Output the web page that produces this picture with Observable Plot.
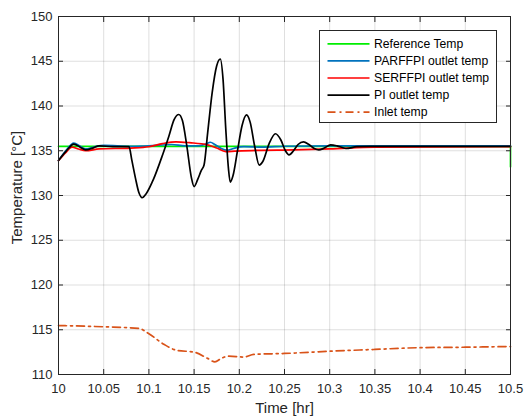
<!DOCTYPE html>
<html>
<head>
<meta charset="utf-8">
<script src="https://cdn.jsdelivr.net/npm/d3@7"></script>
<script src="https://cdn.jsdelivr.net/npm/@observablehq/plot@0.6"></script>
<style>
  body { margin: 0; background: white; }
  #wrap { position: relative; width: 524px; height: 419px; font-family: "Liberation Sans", Arial, sans-serif; }
  #legend { position: absolute; left: 319px; top: 30px; width: 176px; height: 91px; border: 1px solid #262626; background: white; }
</style>
</head>
<body>
<div id="wrap">
  <div id="chart"></div>
  <div id="legend"></div>
</div>
<script>
const xTicks = [10, 10.05, 10.1, 10.15, 10.2, 10.25, 10.3, 10.35, 10.4, 10.45, 10.5];
const yTicks = [110, 115, 120, 125, 130, 135, 140, 145, 150];

const seriesNames = ["Reference Temp", "PARFFPI outlet temp", "SERFFPI outlet temp", "PI outlet temp", "Inlet temp"];
const seriesColors = ["#00ee00", "#0072bd", "#ff0000", "#000000", "#d95319"];

const refTime = [10, 10.5, 10.5];
const refTemp = [135.5, 135.5, 133.2];

const parTime = [10.000, 10.008, 10.017, 10.024, 10.030, 10.040, 10.050, 10.080, 10.100, 10.125, 10.140, 10.155, 10.163, 10.168, 10.173, 10.180, 10.187, 10.195, 10.205, 10.225, 10.250, 10.300, 10.500];
const parTemp = [133.9, 135.0, 135.85, 135.5, 135.2, 135.45, 135.6, 135.5, 135.55, 135.7, 135.55, 135.55, 135.75, 135.95, 135.7, 135.25, 135.05, 135.3, 135.45, 135.4, 135.5, 135.55, 135.55];

const serTime = [10.000, 10.008, 10.015, 10.022, 10.030, 10.045, 10.080, 10.100, 10.115, 10.130, 10.145, 10.165, 10.175, 10.185, 10.195, 10.220, 10.260, 10.300, 10.350, 10.500];
const serTemp = [133.9, 134.8, 135.4, 135.2, 135.0, 135.2, 135.3, 135.45, 135.8, 136.0, 135.9, 135.65, 135.3, 134.9, 134.95, 135.05, 135.1, 135.2, 135.4, 135.45];

const piTime = [10.000, 10.008, 10.017, 10.024, 10.030, 10.038, 10.045, 10.060, 10.078, 10.081, 10.085, 10.089, 10.0925, 10.097, 10.105, 10.115, 10.122, 10.128, 10.133, 10.137, 10.142, 10.147, 10.150, 10.154, 10.158, 10.161, 10.165, 10.170, 10.175, 10.179, 10.182, 10.185, 10.188, 10.190, 10.193, 10.198, 10.203, 10.208, 10.212, 10.217, 10.222, 10.226, 10.233, 10.240, 10.246, 10.251, 10.255, 10.260, 10.265, 10.271, 10.277, 10.283, 10.288, 10.294, 10.301, 10.308, 10.318, 10.330, 10.345, 10.500];
const piTemp = [133.9, 134.9, 135.75, 135.4, 135.1, 135.3, 135.55, 135.45, 135.45, 134.0, 132.0, 130.3, 129.75, 130.2, 131.8, 134.5, 136.6, 138.5, 139.05, 138.4, 135.5, 132.0, 131.0, 131.8, 132.8, 133.4, 137.0, 141.5, 144.5, 145.25, 143.0, 137.5, 133.0, 131.5, 132.2, 135.0, 137.8, 139.0, 138.2, 135.5, 133.4, 133.8, 135.8, 136.9, 136.2, 135.0, 134.55, 135.0, 135.7, 136.0, 135.7, 135.25, 135.1, 135.3, 135.65, 135.55, 135.25, 135.45, 135.5, 135.5];

const inletTime = [10.000, 10.050, 10.089, 10.100, 10.117, 10.131, 10.150, 10.165, 10.173, 10.180, 10.188, 10.205, 10.216, 10.250, 10.300, 10.350, 10.400, 10.450, 10.500];
const inletTemp = [115.47, 115.33, 115.15, 114.55, 113.35, 112.7, 112.5, 111.8, 111.4, 111.8, 112.05, 111.95, 112.25, 112.35, 112.6, 112.8, 113.0, 113.05, 113.13];

const toRows = (ts, vs) => ts.map((t, i) => ({t, v: vs[i]}));
const ref = toRows(refTime, refTemp);
const par = toRows(parTime, parTemp);
const ser = toRows(serTime, serTemp);
const pi = toRows(piTime, piTemp);
const inlet = toRows(inletTime, inletTemp);

const font = "'Liberation Sans', Arial, Helvetica, sans-serif";
const axisColor = "#262626";
const lw = 1.7;
const inletDash = "8,4,2,4";

const chart = Plot.plot({
  width: 524,
  height: 419,
  marginLeft: 58,
  marginRight: 14,
  marginTop: 16,
  marginBottom: 45,
  style: {fontFamily: font, fontSize: "13px", color: axisColor, background: "white", overflow: "visible"},
  x: {domain: [10, 10.5]},
  y: {domain: [110, 150]},
  marks: [
    Plot.gridX(xTicks, {stroke: axisColor, strokeOpacity: 0.15}),
    Plot.gridY(yTicks, {stroke: axisColor, strokeOpacity: 0.15}),
    Plot.line(ref, {x: "t", y: "v", stroke: seriesColors[0], strokeWidth: lw}),
    Plot.line(par, {x: "t", y: "v", stroke: seriesColors[1], strokeWidth: lw, curve: "monotone-x"}),
    Plot.line(ser, {x: "t", y: "v", stroke: seriesColors[2], strokeWidth: lw, curve: "monotone-x"}),
    Plot.line(pi, {x: "t", y: "v", stroke: seriesColors[3], strokeWidth: lw, curve: "monotone-x"}),
    Plot.line(inlet, {x: "t", y: "v", stroke: seriesColors[4], strokeWidth: lw, strokeDasharray: inletDash, curve: "monotone-x"}),
    Plot.frame({stroke: axisColor}),
    Plot.axisX(xTicks, {tickSize: 0, tickPadding: 9, tickFormat: d => String(d), label: "Time [hr]", labelAnchor: "center", labelOffset: 38, labelArrow: "none", fontSize: 13}),
    Plot.axisX(xTicks, {tickSize: -5, tickFormat: () => "", label: null, stroke: axisColor}),
    Plot.axisX(xTicks, {anchor: "top", tickSize: -5, tickFormat: () => "", label: null, stroke: axisColor}),
    Plot.axisY(yTicks, {tickSize: 0, tickPadding: 6, tickFormat: d => String(d), label: "Temperature [°C]", labelAnchor: "center", labelOffset: 47, labelArrow: "none", fontSize: 13}),
    Plot.axisY(yTicks, {tickSize: -5, tickFormat: () => "", label: null, stroke: axisColor}),
    Plot.axisY(yTicks, {anchor: "right", tickSize: -5, tickFormat: () => "", label: null, stroke: axisColor})
  ]
});
d3.select(chart).selectAll('g[aria-label="x-axis label"] text').attr("font-size", 15);
d3.select(chart).selectAll('g[aria-label="y-axis label"] text').attr("font-size", 15).attr("dx", 8);
document.getElementById("chart").appendChild(chart);

// legend inside plot area (HTML overlay)
const ns = "http://www.w3.org/2000/svg";
const lg = document.createElementNS(ns, "svg");
lg.setAttribute("width", 176);
lg.setAttribute("height", 91);
seriesNames.forEach((name, i) => {
  const cy = 12.8 + i * 17.1;
  const ln = document.createElementNS(ns, "line");
  ln.setAttribute("x1", 7.5); ln.setAttribute("x2", 49.5);
  ln.setAttribute("y1", cy); ln.setAttribute("y2", cy);
  ln.setAttribute("stroke", seriesColors[i]);
  ln.setAttribute("stroke-width", lw);
  if (i === 4) ln.setAttribute("stroke-dasharray", inletDash);
  lg.appendChild(ln);
  const tx = document.createElementNS(ns, "text");
  tx.setAttribute("x", 54);
  tx.setAttribute("y", cy);
  tx.setAttribute("dy", "0.35em");
  tx.setAttribute("font-family", font);
  tx.setAttribute("font-size", 12.2);
  tx.setAttribute("fill", "#000");
  tx.textContent = name;
  lg.appendChild(tx);
});
document.getElementById("legend").appendChild(lg);
</script>
</body>
</html>
